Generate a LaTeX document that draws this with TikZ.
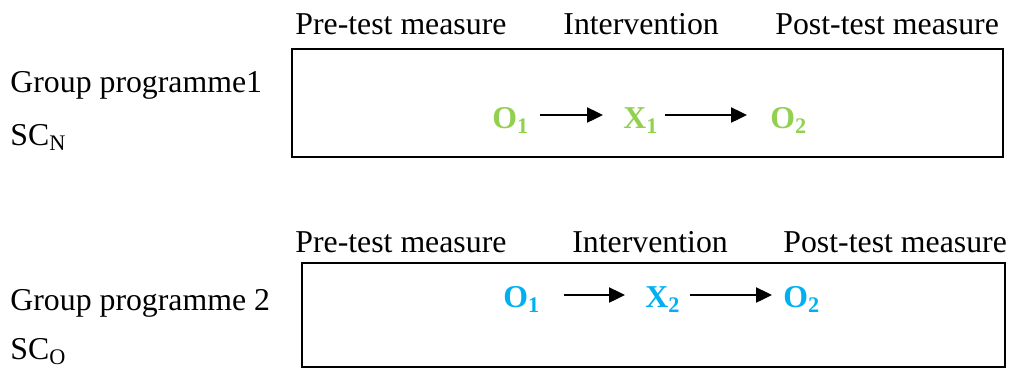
\documentclass[tikz,border=0pt]{standalone}
\usepackage{fontspec}
\setmainfont{Liberation Serif}
\usetikzlibrary{arrows.meta}
\definecolor{obsgreen}{HTML}{92D050}
\definecolor{obsblue}{HTML}{00B0F0}
\newcommand{\Obs}[2]{\textbf{#1\textsubscript{#2}}}

\begin{document}
\begin{tikzpicture}[x=0.5pt,y=-0.5pt,
  every node/.style={font=\fontsize{15.9}{19}\selectfont,inner sep=0pt},
  label/.style={anchor=base west},
  stage/.style={anchor=base west},
  flow/.style={-{Triangle[length=8pt,width=7.5pt]},line width=1.2pt},
  frame/.style={line width=1pt}]
\useasboundingbox (0,0) rectangle (1010,370);

% first group
\node[label] (pre1) at (295,34) {Pre-test measure};
\node[label] (int1) at (563,34) {Intervention};
\node[label] (post1) at (775,34) {Post-test measure};
\node[label] (grp1) at (10,92) {Group programme1};
\node[label] (sc1) at (10,145) {SC\textsubscript{N}};
\draw[frame] (292,49) rectangle (1003,157);
\node[stage,text=obsgreen] (o1a) at (492,128) {\Obs{O}{1}};
\node[stage,text=obsgreen] (x1) at (623,128) {\Obs{X}{1}};
\node[stage,text=obsgreen] (o2a) at (770,128) {\Obs{O}{2}};
\draw[flow,shorten <=5pt,shorten >=10pt] ([yshift=6.5pt]o1a.base east) -- ([yshift=6.5pt]x1.base west);
\draw[flow,shorten <=3pt,shorten >=11.5pt] ([yshift=6.5pt]x1.base east) -- ([yshift=6.5pt]o2a.base west);

% second group
\node[label] (pre2) at (295,252) {Pre-test measure};
\node[label] (int2) at (572,252) {Intervention};
\node[label] (post2) at (783,252) {Post-test measure};
\node[label] (grp2) at (10,310) {Group programme 2};
\node[label] (sc2) at (10,359) {SC\textsubscript{O}};
\draw[frame] (302,263) rectangle (1005,367);
\node[stage,text=obsblue] (o1b) at (503,307) {\Obs{O}{1}};
\node[stage,text=obsblue] (x2) at (645,307) {\Obs{X}{2}};
\node[stage,text=obsblue] (o2b) at (783,307) {\Obs{O}{2}};
\draw[flow,shorten <=11.5pt,shorten >=10pt] ([yshift=6pt]o1b.base east) -- ([yshift=6pt]x2.base west);
\draw[flow,shorten <=4.5pt,shorten >=5.5pt] ([yshift=6pt]x2.base east) -- ([yshift=6pt]o2b.base west);
\end{tikzpicture}
\end{document}
